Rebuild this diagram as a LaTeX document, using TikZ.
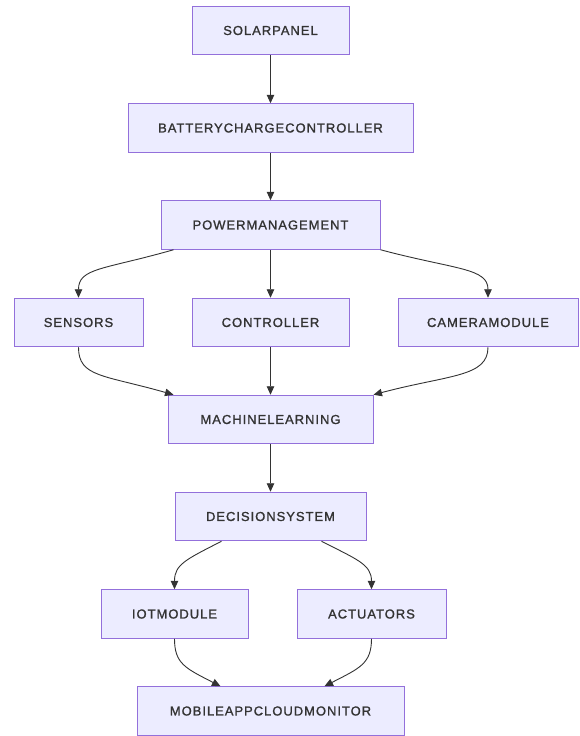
\documentclass[tikz,border=0pt]{standalone}
\usepackage{fontspec}
\setmainfont{Liberation Sans}[LetterSpace=7.5, FakeBold=1.2]
\usetikzlibrary{arrows.meta}
\definecolor{boxfill}{HTML}{ECECFF}
\definecolor{boxline}{HTML}{9370DB}
\definecolor{ink}{HTML}{333333}

\begin{document}
\begin{tikzpicture}[x=1pt, y=-1pt,
    box/.style={draw=boxline, fill=boxfill, line width=1pt, text=ink, minimum height=48.5pt, inner sep=0pt, font=\fontsize{13}{15}\selectfont},
    flow/.style={draw=ink, line width=0.9pt, -{Triangle[length=8.5pt, width=7.5pt]}}]
    \useasboundingbox (0,0) rectangle (579,736);
    % power chain
    \node[box, minimum width=157pt](solar) at (270.5,30.5){SOLARPANEL};
    \node[box, minimum width=285pt](battery) at (270.5,128){BATTERYCHARGECONTROLLER};
    \node[box, minimum width=219pt](power) at (270.5,225){POWERMANAGEMENT};
    % devices
    \node[box, minimum width=129pt](sensors) at (78.5,322.5){SENSORS};
    \node[box, minimum width=157pt](ctrl) at (270.5,322.5){CONTROLLER};
    \node[box, minimum width=180pt](camera) at (488,322.5){CAMERAMODULE};
    % processing
    \node[box, minimum width=205pt](ml) at (270.5,419.5){MACHINELEARNING};
    \node[box, minimum width=191pt](decision) at (270.5,516.5){DECISIONSYSTEM};
    % outputs
    \node[box, minimum width=147pt](iot) at (174.5,614){IOTMODULE};
    \node[box, minimum width=149pt](act) at (371.5,614){ACTUATORS};
    \node[box, minimum width=267pt](mobile) at (270.5,711){MOBILEAPPCLOUDMONITOR};

    \draw[flow] (solar) -- (battery);
    \draw[flow] (battery) -- (power);
    \draw[flow] ([xshift=-97pt]power.south) .. controls +(-70,20) and +(0,-30) .. (sensors.north);
    \draw[flow] (power) -- (ctrl);
    \draw[flow] ([xshift=110pt]power.south) .. controls +(75,20) and +(0,-30) .. (camera.north);
    \draw[flow] (sensors.south) .. controls +(0,30) and +(-70,-20) .. ([xshift=-97pt]ml.north);
    \draw[flow] (ctrl) -- (ml);
    \draw[flow] (camera.south) .. controls +(0,30) and +(75,-20) .. ([xshift=103pt]ml.north);
    \draw[flow] (ml) -- (decision);
    \draw[flow] ([xshift=-49pt]decision.south) .. controls +(-35,18) and +(0,-25) .. (iot.north);
    \draw[flow] ([xshift=51pt]decision.south) .. controls +(35,18) and +(0,-25) .. (act.north);
    \draw[flow] (iot.south) .. controls +(0,25) and +(-35,-18) .. ([xshift=-50pt]mobile.north);
    \draw[flow] (act.south) .. controls +(0,25) and +(35,-18) .. ([xshift=54pt]mobile.north);
\end{tikzpicture}
\end{document}
